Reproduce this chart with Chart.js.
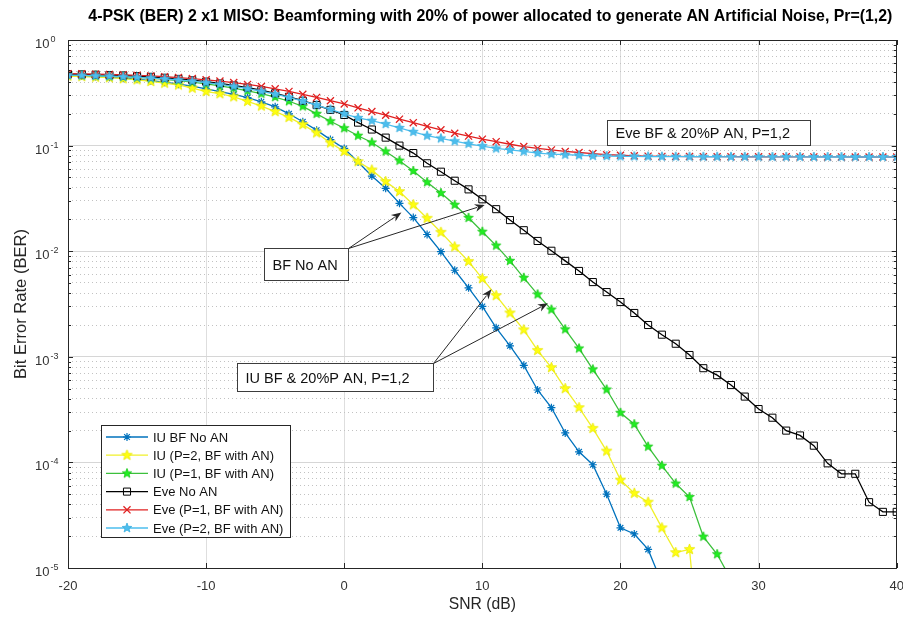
<!DOCTYPE html>
<html lang="en">
<head>
  <meta charset="UTF-8" />
  <title>4-PSK BER - 2x1 MISO beamforming with AN</title>
  <script src="https://cdn.jsdelivr.net/npm/chart.js"></script>
  <style>
    body { margin: 0; background: #fff; }
    .wrap { position: relative; width: 903px; height: 618px; }
  </style>
</head>
<body>
  <div class="wrap"><canvas id="berChart"></canvas></div>

  <script>
    // SNR grid (dB)
    const snr = [-20, -19, -18, -17, -16, -15, -14, -13, -12, -11, -10, -9, -8, -7, -6, -5, -4, -3, -2, -1,
      0, 1, 2, 3, 4, 5, 6, 7, 8, 9, 10, 11, 12, 13, 14, 15, 16, 17, 18, 19,
      20, 21, 22, 23, 24, 25, 26, 27, 28, 29, 30, 31, 32, 33, 34, 35, 36, 37, 38, 39, 40];

    // BER (series stop once they fall below the axis)
    const berIuNoAN = [0.46, 0.455, 0.45, 0.443, 0.435, 0.425, 0.412, 0.398, 0.382, 0.365,
      0.345, 0.325, 0.305, 0.285, 0.26, 0.233, 0.2, 0.168, 0.14, 0.114,
      0.094, 0.07, 0.0515, 0.0394, 0.0284, 0.0208, 0.0144, 0.0099, 0.0066, 0.0045,
      0.003, 0.00188, 0.00127, 0.00083, 0.000485, 0.00033, 0.00019, 0.000126, 0.000095, 0.00005,
      0.000024, 0.000021, 0.000015, 0.0000072];
    const berIuP2 = [0.455, 0.45, 0.445, 0.44, 0.43, 0.42, 0.405, 0.39, 0.375, 0.35,
      0.325, 0.31, 0.29, 0.262, 0.237, 0.21, 0.185, 0.158, 0.132, 0.106,
      0.088, 0.0705, 0.0588, 0.0456, 0.0367, 0.0275, 0.0205, 0.0151, 0.011, 0.008,
      0.0055, 0.0038, 0.0026, 0.0018, 0.00115, 0.00079, 0.0005, 0.00033, 0.00021, 0.000128,
      0.000068, 0.000051, 0.000042, 0.000024, 0.000014, 0.000015, 0.0000006];
    const berIuP1 = [0.47, 0.465, 0.46, 0.455, 0.45, 0.443, 0.435, 0.425, 0.413, 0.4,
      0.385, 0.368, 0.35, 0.33, 0.31, 0.288, 0.263, 0.235, 0.2, 0.17,
      0.146, 0.124, 0.107, 0.088, 0.072, 0.0575, 0.045, 0.0355, 0.0275, 0.0207,
      0.0153, 0.0113, 0.0081, 0.0056, 0.0039, 0.0028, 0.00182, 0.0012, 0.00076, 0.00049,
      0.000295, 0.00023, 0.000141, 0.000093, 0.000063, 0.000047, 0.0000198, 0.0000135, 0.0000078];
    const berEveNoAN = [0.475, 0.472, 0.469, 0.466, 0.461, 0.455, 0.448, 0.439, 0.428, 0.416,
      0.403, 0.388, 0.372, 0.354, 0.335, 0.313, 0.29, 0.266, 0.242, 0.218,
      0.195, 0.165, 0.142, 0.119, 0.1, 0.085, 0.068, 0.0566, 0.0465, 0.0385,
      0.031, 0.025, 0.0197, 0.0158, 0.0125, 0.0101, 0.0081, 0.0065, 0.0051, 0.0041,
      0.0033, 0.0026, 0.002, 0.00162, 0.00133, 0.00104, 0.00078, 0.00067, 0.00054, 0.00042,
      0.00032, 0.000265, 0.0002, 0.00018, 0.000144, 0.000098, 0.000078, 0.000078, 0.000042, 0.000034,
      0.000034];
    const berEveP1 = [0.48, 0.478, 0.475, 0.472, 0.468, 0.463, 0.457, 0.45, 0.441, 0.431,
      0.42, 0.408, 0.395, 0.38, 0.363, 0.345, 0.326, 0.306, 0.286, 0.266,
      0.248, 0.228, 0.21, 0.194, 0.178, 0.165, 0.152, 0.141, 0.131, 0.123,
      0.115, 0.109, 0.103, 0.098, 0.094, 0.091, 0.088, 0.086, 0.084, 0.082,
      0.081, 0.08, 0.0795, 0.079, 0.079, 0.0788, 0.0786, 0.0785, 0.0785, 0.0784,
      0.0784, 0.0783, 0.0783, 0.0782, 0.0782, 0.0781, 0.0781, 0.078, 0.078, 0.078,
      0.078];
    const berEveP2 = [0.465, 0.462, 0.458, 0.454, 0.449, 0.443, 0.436, 0.428, 0.418, 0.407,
      0.394, 0.38, 0.364, 0.346, 0.327, 0.307, 0.286, 0.264, 0.242, 0.22,
      0.2, 0.183, 0.172, 0.16, 0.147, 0.135, 0.124, 0.117, 0.11, 0.104,
      0.099, 0.094, 0.091, 0.088, 0.085, 0.083, 0.082, 0.081, 0.08, 0.0795,
      0.079, 0.079, 0.0788, 0.0786, 0.0785, 0.0785, 0.0784, 0.0784, 0.0783, 0.0783,
      0.0782, 0.0782, 0.0781, 0.0781, 0.078, 0.078, 0.078, 0.078, 0.078, 0.078,
      0.078];

    const seriesLabels = ['IU BF No AN', 'IU (P=2, BF with AN)', 'IU (P=1, BF with AN)',
      'Eve No AN', 'Eve (P=1, BF with AN)', 'Eve (P=2, BF with AN)'];

    const xTicks = [-20, -10, 0, 10, 20, 30, 40];
    const yDecades = [-5, -4, -3, -2, -1, 0];

    const titleText = '4-PSK (BER) 2 x1 MISO: Beamforming with 20% of power allocated to generate AN Artificial Noise, Pr=(1,2)';

    const FONT = '"Liberation Sans", Arial, Helvetica, sans-serif';
    const AXIS = '#262626';

    // minor + major ticks for the log axis
    const yTickValues = [];
    yDecades.forEach(d => {
      if (d === 0) { yTickValues.push(1); return; }
      for (let m = 1; m <= 9; m++) yTickValues.push(+(m * Math.pow(10, d)).toPrecision(3));
    });
    const isDecade = v => Math.abs(Math.log10(v) - Math.round(Math.log10(v))) < 1e-9;

    // filled pentagram marker (MATLAB 'p')
    function pentagram(fill, edge, r) {
      const s = Math.ceil(r * 2 + 2);
      const c = document.createElement('canvas');
      c.width = s; c.height = s;
      const g = c.getContext('2d');
      g.beginPath();
      for (let i = 0; i < 10; i++) {
        const rr = i % 2 === 0 ? r : r * 0.42;
        const a = -Math.PI / 2 + i * Math.PI / 5;
        const px = s / 2 + rr * Math.cos(a), py = s / 2 + rr * Math.sin(a);
        if (i === 0) g.moveTo(px, py); else g.lineTo(px, py);
      }
      g.closePath();
      g.fillStyle = fill; g.fill();
      g.lineWidth = 0.8; g.strokeStyle = edge; g.stroke();
      return c;
    }

    const styles = [
      { line: '#0072BD', fill: '#0072BD', edge: '#0072BD', marker: 'star', radius: 4, bw: 1.2 },
      { line: '#f0f02a', fill: '#ffff10', edge: '#e8e800', marker: pentagram('#ffff10', '#e8e800', 5.5), radius: 5, bw: 1 },
      { line: '#3cc03c', fill: '#22ee22', edge: '#18c818', marker: pentagram('#22ee22', '#18c818', 5), radius: 5, bw: 1 },
      { line: '#000000', fill: 'rgba(0,0,0,0)', edge: '#000000', marker: 'rect', radius: 5, bw: 1 },
      { line: '#e02020', fill: '#e02020', edge: '#e02020', marker: 'crossRot', radius: 5, bw: 1.3 },
      { line: '#4DBEEE', fill: '#4DBEEE', edge: '#4DBEEE', marker: pentagram('#4DBEEE', '#3aaede', 5), radius: 5, bw: 1 }
    ];
    const seriesData = [berIuNoAN, berIuP2, berIuP1, berEveNoAN, berEveP1, berEveP2];

    const datasets = seriesData.map((vals, k) => ({
      label: seriesLabels[k],
      data: vals.map((v, i) => ({ x: snr[i], y: v })),
      borderColor: styles[k].line,
      backgroundColor: styles[k].fill,
      borderWidth: 1.3,
      pointStyle: styles[k].marker,
      pointRadius: styles[k].radius,
      pointHoverRadius: styles[k].radius,
      pointBackgroundColor: styles[k].fill,
      pointBorderColor: styles[k].edge,
      pointBorderWidth: styles[k].bw,
      tension: 0,
      order: 5 - k   // later series drawn on top, like MATLAB
    }));

    // text boxes and arrows, anchored in data space
    const notes = [
      { text: 'BF No AN', x0: -5.82, x1: 0.26, yTop: 0.0107, yBot: 0.0053,
        arrows: [[4.14, 0.0232], [10.17, 0.0274]] },
      { text: 'IU BF & 20%P AN, P=1,2', x0: -7.77, x1: 6.41, yTop: 0.000873, yBot: 0.000474,
        arrows: [[10.66, 0.00436], [14.75, 0.00321]] },
      { text: 'Eve BF & 20%P AN, P=1,2', x0: 19.0, x1: 33.69, yTop: 0.1747, yBot: 0.1013, arrows: [] }
    ];

    function arrow(ctx, x0, y0, x1, y1) {
      const ang = Math.atan2(y1 - y0, x1 - x0);
      const hl = 10, hw = 4;
      ctx.beginPath();
      ctx.moveTo(x0, y0);
      ctx.lineTo(x1 - hl * 0.8 * Math.cos(ang), y1 - hl * 0.8 * Math.sin(ang));
      ctx.stroke();
      ctx.beginPath();
      ctx.moveTo(x1, y1);
      ctx.lineTo(x1 - hl * Math.cos(ang) + hw * Math.sin(ang), y1 - hl * Math.sin(ang) - hw * Math.cos(ang));
      ctx.lineTo(x1 - hl * 0.7 * Math.cos(ang), y1 - hl * 0.7 * Math.sin(ang));
      ctx.lineTo(x1 - hl * Math.cos(ang) - hw * Math.sin(ang), y1 - hl * Math.sin(ang) + hw * Math.cos(ang));
      ctx.closePath();
      ctx.fill();
    }

    function drawMarker(ctx, st, x, y) {
      ctx.save();
      ctx.fillStyle = st.fill;
      ctx.strokeStyle = st.edge;
      ctx.lineWidth = st.bw;
      Chart.helpers.drawPoint(ctx, { pointStyle: st.marker, radius: st.radius, rotation: 0, borderWidth: st.bw }, x, y);
      ctx.restore();
    }

    // pick a font size so that a string spans the given width
    function fitFont(ctx, text, weight, width) {
      ctx.font = weight + '13px ' + FONT;
      const size = 13 * width / ctx.measureText(text).width;
      ctx.font = weight + size.toFixed(2) + 'px ' + FONT;
    }

    const decorations = {
      id: 'decorations',
      afterDraw(chart) {
        const { ctx, chartArea: a, scales: { x, y } } = chart;
        ctx.save();

        // inward tick marks on all four sides
        ctx.strokeStyle = AXIS;
        ctx.lineWidth = 1;
        ctx.beginPath();
        xTicks.forEach(v => {
          const px = Math.round(x.getPixelForValue(v)) + 0.5;
          ctx.moveTo(px, a.bottom); ctx.lineTo(px, a.bottom - 5);
          ctx.moveTo(px, a.top); ctx.lineTo(px, a.top + 5);
        });
        yTickValues.forEach(v => {
          const py = Math.round(y.getPixelForValue(v)) + 0.5;
          const len = isDecade(v) ? 5 : 3;
          ctx.moveTo(a.left, py); ctx.lineTo(a.left + len, py);
          ctx.moveTo(a.right, py); ctx.lineTo(a.right - len, py);
        });
        ctx.stroke();

        // axes box
        ctx.strokeRect(Math.round(a.left) + 0.5, Math.round(a.top) + 0.5,
          Math.round(a.right - a.left) - 1, Math.round(a.bottom - a.top));

        // x tick labels
        ctx.fillStyle = '#333';
        ctx.font = '13px ' + FONT;
        ctx.textAlign = 'center';
        ctx.textBaseline = 'middle';
        xTicks.forEach(v => ctx.fillText(String(v), x.getPixelForValue(v), a.bottom + 18));

        // y tick labels 10^k
        ctx.textAlign = 'left';
        ctx.textBaseline = 'alphabetic';
        yDecades.forEach(d => {
          const py = y.getPixelForValue(Math.pow(10, d));
          ctx.font = '13px ' + FONT;
          ctx.fillText('10', 35, py + 8);
          const w = ctx.measureText('10').width;
          ctx.font = '9px ' + FONT;
          ctx.fillText(String(d), 35 + w + 1, py + 2);
        });

        // axis titles
        ctx.fillStyle = '#262626';
        ctx.textAlign = 'center';
        ctx.textBaseline = 'middle';
        fitFont(ctx, 'SNR (dB)', '', 67);
        ctx.fillText('SNR (dB)', (a.left + a.right) / 2, 605);
        ctx.save();
        ctx.translate(21, (a.top + a.bottom) / 2);
        ctx.rotate(-Math.PI / 2);
        fitFont(ctx, 'Bit Error Rate (BER)', '', 150);
        ctx.fillText('Bit Error Rate (BER)', 0, 0);
        ctx.restore();

        // title, fitted to the reference width
        ctx.fillStyle = '#000';
        fitFont(ctx, titleText, 'bold ', 805);
        ctx.fillText(titleText, (a.left + a.right) / 2 + 8, 17);

        // annotations
        ctx.lineWidth = 1;
        notes.forEach(n => {
          const l = Math.round(x.getPixelForValue(n.x0)) + 0.5;
          const r = Math.round(x.getPixelForValue(n.x1)) + 0.5;
          const t = Math.round(y.getPixelForValue(n.yTop)) + 0.5;
          const b = Math.round(y.getPixelForValue(n.yBot)) + 0.5;
          ctx.strokeStyle = AXIS;
          ctx.fillStyle = AXIS;
          n.arrows.forEach(([ax, ay]) => arrow(ctx, r, t, x.getPixelForValue(ax), y.getPixelForValue(ay)));
          ctx.fillStyle = '#fff';
          ctx.fillRect(l, t, r - l, b - t);
          ctx.strokeStyle = '#3c3c3c';
          ctx.strokeRect(l, t, r - l, b - t);
          ctx.fillStyle = '#111';
          ctx.font = '14.5px ' + FONT;
          ctx.textAlign = 'left';
          ctx.fillText(n.text, l + 8, (t + b) / 2 + 1);
        });

        // legend box
        const lx = a.left + 33, ly = a.bottom - 143, lw = 189, lh = 112;
        ctx.fillStyle = '#fff';
        ctx.fillRect(lx + 0.5, ly + 0.5, lw, lh);
        ctx.strokeStyle = AXIS;
        ctx.strokeRect(lx + 0.5, ly + 0.5, lw, lh);
        ctx.font = '13px ' + FONT;
        ctx.textAlign = 'left';
        ctx.textBaseline = 'middle';
        seriesLabels.forEach((lab, k) => {
          const cy = ly + 12 + k * 18.2;
          ctx.strokeStyle = styles[k].line;
          ctx.lineWidth = 1.3;
          ctx.beginPath();
          ctx.moveTo(lx + 5, cy); ctx.lineTo(lx + 47, cy);
          ctx.stroke();
          drawMarker(ctx, styles[k], lx + 26, cy);
          ctx.fillStyle = '#111';
          ctx.fillText(lab, lx + 52, cy + 1);
        });

        ctx.restore();
      }
    };

    new Chart(document.getElementById('berChart').getContext('2d'), {
      type: 'line',
      data: { datasets },
      options: {
        responsive: true,
        maintainAspectRatio: false,
        animation: false,
        layout: { padding: { left: 68, right: 6, top: 40, bottom: 50 } },
        plugins: {
          legend: { display: false },
          tooltip: { enabled: false },
          title: { display: false }
        },
        scales: {
          x: {
            type: 'linear',
            min: -20,
            max: 40,
            afterBuildTicks: axis => { axis.ticks = xTicks.map(v => ({ value: v })); },
            ticks: { display: false, autoSkip: false },
            grid: {
              drawTicks: false,
              lineWidth: 1,
              color: c => (c.tick && (c.tick.value === -20 || c.tick.value === 40)) ? 'rgba(0,0,0,0)' : '#dedede'
            },
            border: { display: false }
          },
          y: {
            type: 'logarithmic',
            min: 1e-5,
            max: 1,
            afterBuildTicks: axis => { axis.ticks = yTickValues.map(v => ({ value: v })); },
            ticks: { display: false, autoSkip: false },
            grid: {
              drawTicks: false,
              lineWidth: 1,
              color: c => (c.tick && isDecade(c.tick.value)) ? '#d6d6d6' : '#c2c2c2'
            },
            border: {
              display: false,
              dash: c => (c.tick && isDecade(c.tick.value)) ? [] : [1, 3]
            }
          }
        }
      },
      plugins: [decorations]
    });
  </script>
</body>
</html>
